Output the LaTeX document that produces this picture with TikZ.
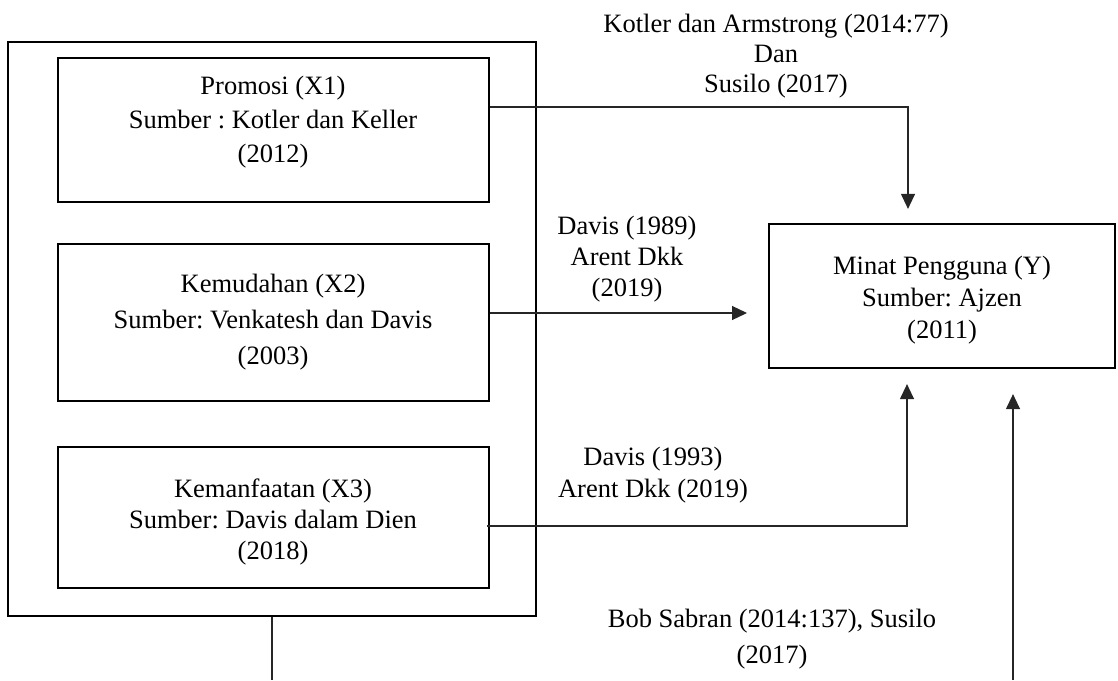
\documentclass[tikz,border=0pt]{standalone}
\usepackage{fontspec}
\setmainfont{Liberation Serif}
\usetikzlibrary{arrows.meta}
\frenchspacing
\begin{document}
\begin{tikzpicture}[x=1pt,y=-1pt,
  outerbox/.style={draw=black,line width=2.8pt,minimum width=528pt,minimum height=574pt,inner sep=0pt},
  varbox/.style={draw=black,line width=2.2pt,inner sep=0pt},
  txt/.style={align=center,inner sep=0pt,font=\fontsize{26.5}{#1}\selectfont},
  txt/.default=33,
  conn/.style={draw=black!85,line width=1.2pt},
  arr/.style={conn,-{Triangle[width=14pt,length=15pt]}}
]
\useasboundingbox (0,0) rectangle (1118,680);

% boxes
\node[outerbox] (outer) at (272,329) {};
\node[varbox,minimum width=431pt,minimum height=144pt] (x1) at (273.5,130) {};
\node[varbox,minimum width=431pt,minimum height=157pt] (x2) at (273.5,322.5) {};
\node[varbox,minimum width=431pt,minimum height=141pt] (x3) at (273.5,517.5) {};
\node[varbox,minimum width=346pt,minimum height=144pt] (y) at (942,296) {};

% box texts
\node[txt=34] (tx1) at (273,122.5) {Promosi (X1)\\Sumber : Kotler dan Keller\\(2012)};
\node[txt=36] (tx2) at (273,322.5) {Kemudahan (X2)\\Sumber: Venkatesh dan Davis\\(2003)};
\node[txt=31] (tx3) at (273,521.5) {Kemanfaatan (X3)\\Sumber: Davis dalam Dien\\(2018)};
\node[txt=32] (ty) at (942,300.5) {Minat Pengguna (Y)\\Sumber: Ajzen\\(2011)};

% connector labels
\node[txt=30] (l1) at (776,56.5) {Kotler dan Armstrong (2014:77)\\Dan\\Susilo (2017)};
\node[txt=31] (l2) at (627,259.5) {Davis (1989)\\Arent Dkk\\(2019)};
\node[txt=32] (l3) at (653,475) {Davis (1993)\\Arent Dkk (2019)};
\node[txt=36] (l4) at (772,639) {Bob Sabran (2014:137), Susilo\\(2017)};

% free ends
\coordinate (tip2) at (747,313);
\coordinate (bot4) at (1013,680);
\coordinate (bot0) at (272,680);

% connectors
\draw[arr] ([yshift=23pt]x1.east) -| ([xshift=-34pt,yshift=14pt]y.north);
\draw[arr] ([yshift=9.5pt]x2.east) -- ([yshift=9.5pt]x2.east -| tip2);
\draw[arr] ([xshift=-3pt,yshift=-8.5pt]x3.east) -| ([xshift=-35pt,yshift=-15pt]y.south);
\draw[arr] (bot4) -- ([xshift=71pt,yshift=-25pt]y.south);
\draw[conn] (outer.south) -- (bot0);
\end{tikzpicture}
\end{document}
